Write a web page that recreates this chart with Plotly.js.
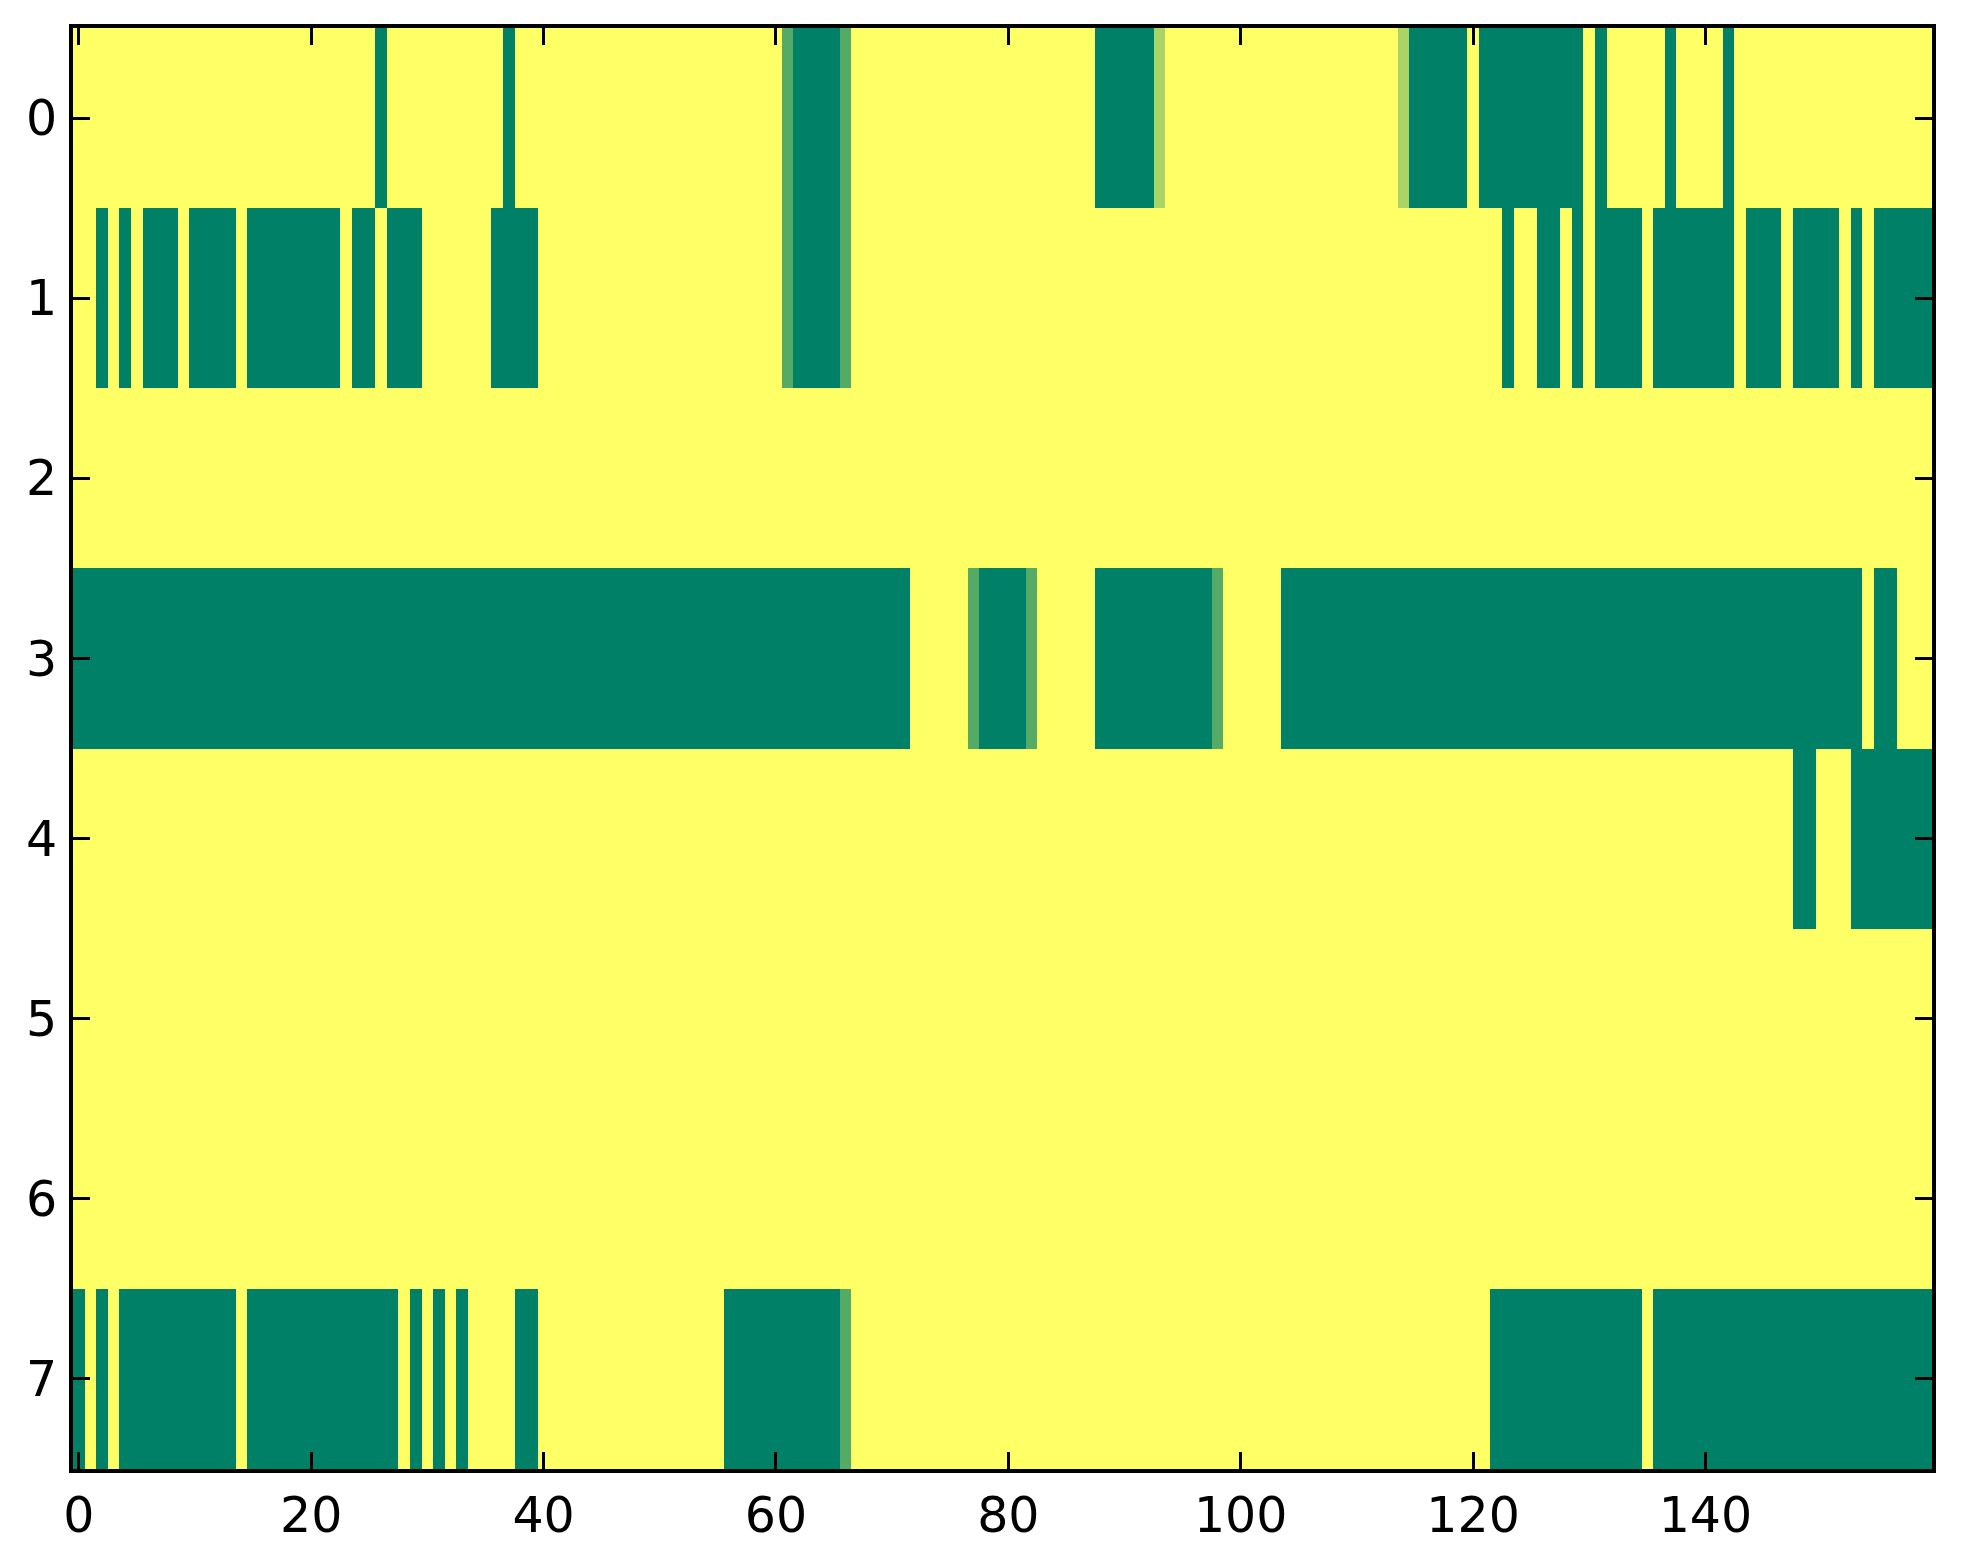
<!DOCTYPE html>
<html>
<head>
<meta charset="utf-8">
<script src="https://cdn.plot.ly/plotly-3.0.1.min.js"></script>
<style>
  html, body { margin: 0; padding: 0; background: #ffffff; }
  #chart { width: 1963px; height: 1564px; }
</style>
</head>
<body>
<div id="chart"></div>
<script>
// Column indices and row indices
var columns = [];
for (var c = 0; c < 160; c++) columns.push(c);
var rowLabels = [0, 1, 2, 3, 4, 5, 6, 7];

// Cell values (0 = green, 1 = yellow)
var row0 = [
  1,1,1,1,1,1,1,1,1,1,  1,1,1,1,1,1,1,1,1,1,  1,1,1,1,1,1,0,1,1,1,  1,1,1,1,1,1,1,0,1,1,
  1,1,1,1,1,1,1,1,1,1,  1,1,1,1,1,1,1,1,1,1,  1,0.333,0,0,0,0,0.333,1,1,1,  1,1,1,1,1,1,1,1,1,1,
  1,1,1,1,1,1,1,1,0,0,  0,0,0,0.667,1,1,1,1,1,1,  1,1,1,1,1,1,1,1,1,1,  1,1,1,1,0.667,0,0,0,0,0,
  1,0,0,0,0,0,0,0,0,0,  1,0,1,1,1,1,1,0,1,1,  1,1,0,1,1,1,1,1,1,1,  1,1,1,1,1,1,1,1,1,1
];
var row1 = [
  1,1,0,1,0,1,0,0,0,1,  0,0,0,0,1,0,0,0,0,0,  0,0,0,1,0,0,1,0,0,0,  1,1,1,1,1,1,0,0,0,0,
  1,1,1,1,1,1,1,1,1,1,  1,1,1,1,1,1,1,1,1,1,  1,0.333,0,0,0,0,0.333,1,1,1,  1,1,1,1,1,1,1,1,1,1,
  1,1,1,1,1,1,1,1,1,1,  1,1,1,1,1,1,1,1,1,1,  1,1,1,1,1,1,1,1,1,1,  1,1,1,1,1,1,1,1,1,1,
  1,1,1,0,1,1,0,0,1,0,  1,0,0,0,0,1,0,0,0,0,  0,0,0,1,0,0,0,1,0,0,  0,0,1,0,1,0,0,0,0,0
];
var row2 = [
  1,1,1,1,1,1,1,1,1,1,  1,1,1,1,1,1,1,1,1,1,  1,1,1,1,1,1,1,1,1,1,  1,1,1,1,1,1,1,1,1,1,
  1,1,1,1,1,1,1,1,1,1,  1,1,1,1,1,1,1,1,1,1,  1,1,1,1,1,1,1,1,1,1,  1,1,1,1,1,1,1,1,1,1,
  1,1,1,1,1,1,1,1,1,1,  1,1,1,1,1,1,1,1,1,1,  1,1,1,1,1,1,1,1,1,1,  1,1,1,1,1,1,1,1,1,1,
  1,1,1,1,1,1,1,1,1,1,  1,1,1,1,1,1,1,1,1,1,  1,1,1,1,1,1,1,1,1,1,  1,1,1,1,1,1,1,1,1,1
];
var row3 = [
  0,0,0,0,0,0,0,0,0,0,  0,0,0,0,0,0,0,0,0,0,  0,0,0,0,0,0,0,0,0,0,  0,0,0,0,0,0,0,0,0,0,
  0,0,0,0,0,0,0,0,0,0,  0,0,0,0,0,0,0,0,0,0,  0,0,0,0,0,0,0,0,0,0,  0,0,1,1,1,1,1,0.333,0,0,
  0,0,0.333,1,1,1,1,1,0,0,  0,0,0,0,0,0,0,0,0.333,1,  1,1,1,1,0,0,0,0,0,0,  0,0,0,0,0,0,0,0,0,0,
  0,0,0,0,0,0,0,0,0,0,  0,0,0,0,0,0,0,0,0,0,  0,0,0,0,0,0,0,0,0,0,  0,0,0,0,1,0,0,1,1,1
];
var row4 = [
  1,1,1,1,1,1,1,1,1,1,  1,1,1,1,1,1,1,1,1,1,  1,1,1,1,1,1,1,1,1,1,  1,1,1,1,1,1,1,1,1,1,
  1,1,1,1,1,1,1,1,1,1,  1,1,1,1,1,1,1,1,1,1,  1,1,1,1,1,1,1,1,1,1,  1,1,1,1,1,1,1,1,1,1,
  1,1,1,1,1,1,1,1,1,1,  1,1,1,1,1,1,1,1,1,1,  1,1,1,1,1,1,1,1,1,1,  1,1,1,1,1,1,1,1,1,1,
  1,1,1,1,1,1,1,1,1,1,  1,1,1,1,1,1,1,1,1,1,  1,1,1,1,1,1,1,1,0,0,  1,1,1,0,0,0,0,0,0,0
];
var row5 = [
  1,1,1,1,1,1,1,1,1,1,  1,1,1,1,1,1,1,1,1,1,  1,1,1,1,1,1,1,1,1,1,  1,1,1,1,1,1,1,1,1,1,
  1,1,1,1,1,1,1,1,1,1,  1,1,1,1,1,1,1,1,1,1,  1,1,1,1,1,1,1,1,1,1,  1,1,1,1,1,1,1,1,1,1,
  1,1,1,1,1,1,1,1,1,1,  1,1,1,1,1,1,1,1,1,1,  1,1,1,1,1,1,1,1,1,1,  1,1,1,1,1,1,1,1,1,1,
  1,1,1,1,1,1,1,1,1,1,  1,1,1,1,1,1,1,1,1,1,  1,1,1,1,1,1,1,1,1,1,  1,1,1,1,1,1,1,1,1,1
];
var row6 = [
  1,1,1,1,1,1,1,1,1,1,  1,1,1,1,1,1,1,1,1,1,  1,1,1,1,1,1,1,1,1,1,  1,1,1,1,1,1,1,1,1,1,
  1,1,1,1,1,1,1,1,1,1,  1,1,1,1,1,1,1,1,1,1,  1,1,1,1,1,1,1,1,1,1,  1,1,1,1,1,1,1,1,1,1,
  1,1,1,1,1,1,1,1,1,1,  1,1,1,1,1,1,1,1,1,1,  1,1,1,1,1,1,1,1,1,1,  1,1,1,1,1,1,1,1,1,1,
  1,1,1,1,1,1,1,1,1,1,  1,1,1,1,1,1,1,1,1,1,  1,1,1,1,1,1,1,1,1,1,  1,1,1,1,1,1,1,1,1,1
];
var row7 = [
  0,1,0,1,0,0,0,0,0,0,  0,0,0,0,1,0,0,0,0,0,  0,0,0,0,0,0,0,0,1,0,  1,0,1,0,1,1,1,1,0,0,
  1,1,1,1,1,1,1,1,1,1,  1,1,1,1,1,1,0,0,0,0,  0,0,0,0,0,0,0.333,1,1,1,  1,1,1,1,1,1,1,1,1,1,
  1,1,1,1,1,1,1,1,1,1,  1,1,1,1,1,1,1,1,1,1,  1,1,1,1,1,1,1,1,1,1,  1,1,1,1,1,1,1,1,1,1,
  1,1,0,0,0,0,0,0,0,0,  0,0,0,0,0,1,0,0,0,0,  0,0,0,0,0,0,0,0,0,0,  0,0,0,0,0,0,0,0,0,0
];

var xTickVals = [0, 20, 40, 60, 80, 100, 120, 140];
var xTickText = ['0', '20', '40', '60', '80', '100', '120', '140'];
var yTickVals = [0, 1, 2, 3, 4, 5, 6, 7];
var yTickText = ['0', '1', '2', '3', '4', '5', '6', '7'];

var z = [row0, row1, row2, row3, row4, row5, row6, row7];

var trace = {
  type: 'heatmap',
  x: columns,
  y: rowLabels,
  z: z,
  zmin: 0,
  zmax: 1,
  colorscale: [[0, 'rgb(0,128,102)'], [1, 'rgb(255,255,102)']],
  showscale: false,
  hoverinfo: 'x+y+z'
};

var axisCommon = {
  showline: true,
  linecolor: '#000000',
  linewidth: 4,
  mirror: 'allticks',
  ticks: 'inside',
  ticklen: 17,
  tickwidth: 3,
  tickcolor: '#000000',
  showgrid: false,
  zeroline: false,
  tickfont: { family: 'DejaVu Sans', size: 49, color: '#000000' }
};

var layout = {
  width: 1963,
  height: 1564,
  margin: { l: 73, r: 31, t: 28, b: 95, pad: 0 },
  paper_bgcolor: '#ffffff',
  plot_bgcolor: '#ffffff',
  showlegend: false,
  xaxis: Object.assign({}, axisCommon, {
    range: [-0.5, 159.5],
    tickmode: 'array',
    tickvals: xTickVals,
    ticktext: xTickText,
    ticklabelstandoff: 0
  }),
  yaxis: Object.assign({}, axisCommon, {
    range: [7.5, -0.5],
    tickmode: 'array',
    tickvals: yTickVals,
    ticktext: yTickText,
    ticklabelstandoff: 2
  })
};

Plotly.newPlot('chart', [trace], layout, { displayModeBar: false, staticPlot: true });
</script>
</body>
</html>
